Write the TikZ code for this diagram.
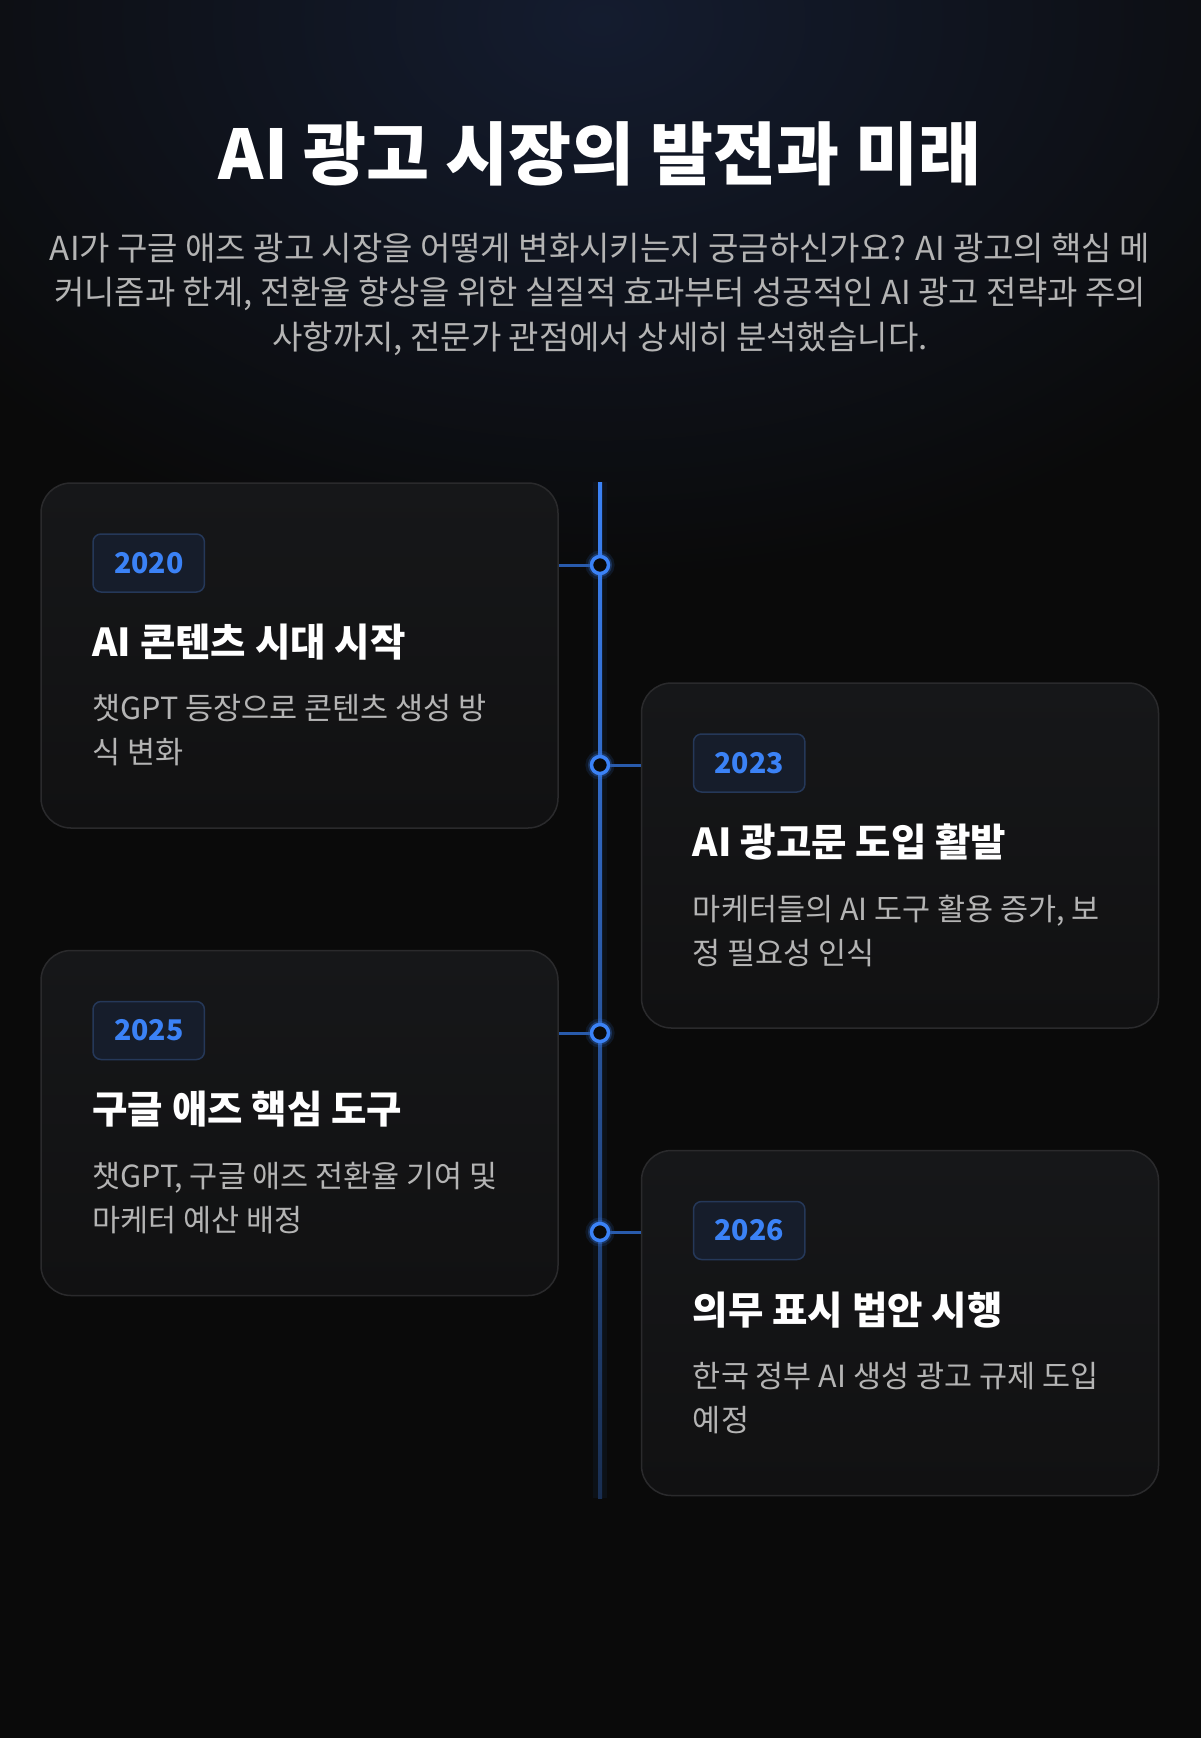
\documentclass[tikz,border=0pt]{standalone}
\usepackage{fontspec}
\setmainfont{Noto Sans CJK KR}
\usetikzlibrary{positioning, calc}

\definecolor{bgdark}{HTML}{0A0A0A}
\definecolor{bgglow}{HTML}{141C2F}
\definecolor{cardtop}{HTML}{161719}
\definecolor{cardbot}{HTML}{111112}
\definecolor{cardline}{HTML}{2A2A2C}
\definecolor{badgefill}{HTML}{161D2B}
\definecolor{badgeline}{HTML}{253859}
\definecolor{accent}{HTML}{3B82F6}
\definecolor{subgray}{HTML}{B4B4B4}
\definecolor{descgray}{HTML}{B4B4B4}

\begin{document}
\begin{tikzpicture}[x=1pt, y=-1pt,
  card/.style={rectangle, rounded corners=30pt, minimum width=517pt, minimum height=345pt,
    draw=cardline, line width=1.5pt, top color=cardtop, bottom color=cardbot},
  badge/.style={rectangle, rounded corners=8pt, minimum height=58pt, inner xsep=21pt,
    draw=badgeline, line width=1.5pt, fill=badgefill, text=accent,
    font=\fontsize{28.5}{28.5}\selectfont\bfseries},
  heading/.style={inner sep=0pt, text=white, font=\fontsize{38.5}{44}\selectfont\bfseries},
  desc/.style={inner sep=0pt, align=left, text=descgray, font=\fontsize{30.5}{44}\selectfont},
  dot/.style={circle, minimum size=17pt, inner sep=0pt, draw=accent, line width=3.5pt, fill=bgdark,
    preaction={draw=accent, line width=12pt, opacity=0.12},
    preaction={draw=accent, line width=7pt, opacity=0.25}},
  link/.style={draw=accent!70!black, line width=3pt}
]

% background
\useasboundingbox (0,0) rectangle (1200,1738);
\fill[bgdark] (-6,-6) rectangle (1206,1744);
\begin{scope}
  \clip (-6,-6) rectangle (1206,1744);
  \shade[inner color=bgglow, outer color=bgdark] (600,20) ellipse [x radius=820pt, y radius=560pt];
\end{scope}

% title
\node (title) [anchor=base, text=white, font=\fontsize{68.5}{68.5}\selectfont\bfseries] at (600,179)
  {AI 광고 시장의 발전과 미래};
\node (intro) [anchor=north, inner sep=0pt, align=center, text=subgray,
  font=\fontsize{33}{44.5}\selectfont] at (600,233)
  {AI가 구글 애즈 광고 시장을 어떻게 변화시키는지 궁금하신가요? AI 광고의 핵심 메\\
   커니즘과 한계, 전환율 향상을 위한 실질적 효과부터 성공적인 AI 광고 전략과 주의\\
   사항까지, 전문가 관점에서 상세히 분석했습니다.};

% timeline
\coordinate (tltop) at (600,482);
\coordinate (tlbot) at (600,1498);
\fill[accent, opacity=0.06] ($(tltop)+(-7,0)$) rectangle ($(tlbot)+(7,0)$);
\shade[top color=accent, bottom color=accent!30!bgdark] ($(tltop)+(-2,0)$) rectangle ($(tlbot)+(2,0)$);

% cards
\node (c20) [card] at (299.5,655.5) {};
\node (c23) [card] at (900,855.5) {};
\node (c25) [card] at (299.5,1123) {};
\node (c26) [card] at (900,1323) {};

\node (y20) [badge, below right=51pt and 52pt of c20.north west] {2020};
\node (h20) [heading, below right=31pt and 0pt of y20.south west] {AI 콘텐츠 시대 시작};
\node (t20) [desc, below right=34pt and 0pt of h20.south west] {챗GPT 등장으로 콘텐츠 생성 방\\식 변화};

\node (y23) [badge, below right=51pt and 52pt of c23.north west] {2023};
\node (h23) [heading, below right=31pt and 0pt of y23.south west] {AI 광고문 도입 활발};
\node (t23) [desc, below right=34pt and 0pt of h23.south west] {마케터들의 AI 도구 활용 증가, 보\\정 필요성 인식};

\node (y25) [badge, below right=51pt and 52pt of c25.north west] {2025};
\node (h25) [heading, below right=31pt and 0pt of y25.south west] {구글 애즈 핵심 도구};
\node (t25) [desc, below right=34pt and 0pt of h25.south west] {챗GPT, 구글 애즈 전환율 기여 및\\마케터 예산 배정};

\node (y26) [badge, below right=51pt and 52pt of c26.north west] {2026};
\node (h26) [heading, below right=31pt and 0pt of y26.south west] {의무 표시 법안 시행};
\node (t26) [desc, below right=34pt and 0pt of h26.south west] {한국 정부 AI 생성 광고 규제 도입\\예정};

% dots and links
\node (d20) [dot] at (600,565) {};
\node (d23) [dot] at (600,765) {};
\node (d25) [dot] at (600,1033) {};
\node (d26) [dot] at (600,1232) {};

\draw [link] (c20.east |- d20) -- (d20);
\draw [link] (c23.west |- d23) -- (d23);
\draw [link] (c25.east |- d25) -- (d25);
\draw [link] (c26.west |- d26) -- (d26);

\end{tikzpicture}
\end{document}
